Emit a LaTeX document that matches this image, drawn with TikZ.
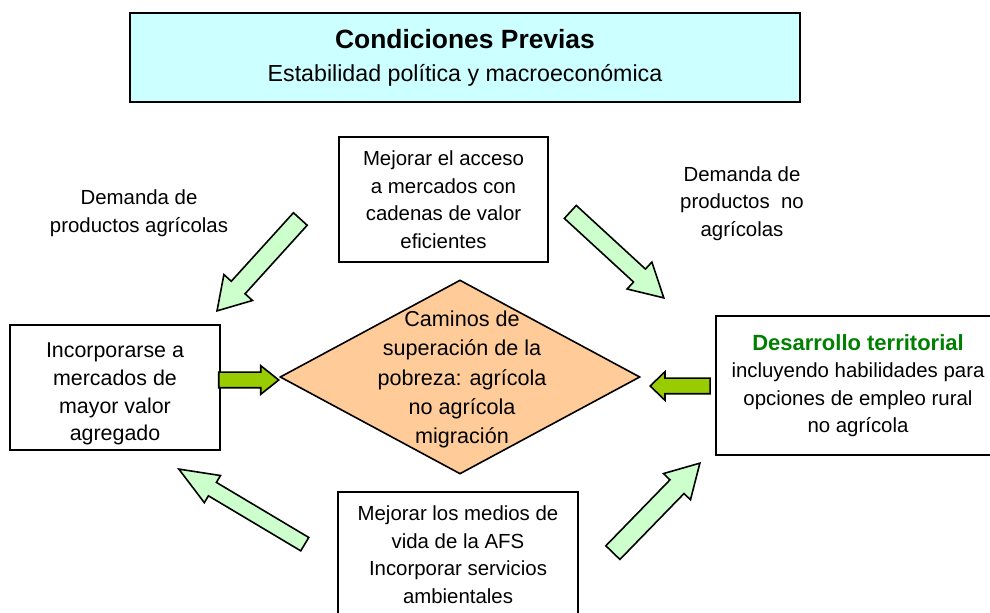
\documentclass[tikz,border=0pt]{standalone}
\usepackage{fontspec}
\setmainfont{Liberation Sans}
\usetikzlibrary{shapes.geometric,shapes.arrows}
\definecolor{celeste}{HTML}{CCFFFF}
\definecolor{verdeclaro}{HTML}{CCFFCC}
\definecolor{verdelima}{HTML}{99CC00}
\definecolor{naranja}{HTML}{FFCC99}
\definecolor{verdetit}{HTML}{008000}

\begin{document}
\begin{tikzpicture}[x=0.5pt,y=-0.5pt,
  caja/.style={draw,line width=1pt,align=center,inner sep=0pt},
  texto/.style={font=\fontsize{10.2}{13.75}\selectfont},
  flecha/.style={single arrow,draw,line width=0.8pt,fill=verdeclaro,inner xsep=0pt,anchor=tip},
  flechita/.style={flecha,fill=verdelima}]

\clip (0,0) rectangle (990,613);

\node[caja,fill=celeste,minimum width=335pt,minimum height=44.5pt,font=\fontsize{11.6}{16.5}\selectfont] (previas) at (465,57.5) {{\fontsize{13.2}{16}\selectfont\bfseries Condiciones Previas}\\Estabilidad política y macroeconómica};

\node[caja,texto,minimum width=104.5pt,minimum height=62.5pt] (acceso) at (443.5,199.5) {Mejorar el acceso\\a mercados con\\cadenas de valor\\eficientes};
\node[texto,align=center] (demagri) at (139,213) {Demanda de\\productos agrícolas};
\node[texto,align=center] (demnoagri) at (742,203.5) {Demanda de\\productos \ no\\agrícolas};

\node[caja,font=\fontsize{10.7}{13.9}\selectfont,minimum width=105pt,minimum height=62.5pt] (incorporarse) at (115,387.5) {\rule{0pt}{13.9pt}Incorporarse a\\mercados de\\mayor valor\\agregado};
\node[caja,texto,minimum width=142pt,minimum height=69.5pt] (territorio) at (858,385.5) {{\fontsize{11}{13.75}\selectfont\bfseries\color{verdetit}Desarrollo territorial}\\incluyendo habilidades para\\opciones de empleo rural\\no agrícola};
\node[caja,texto,minimum width=120pt,minimum height=62.5pt] (medios) at (458,554.5) {Mejorar los medios de\\vida de la AFS\\Incorporar servicios\\ambientales};

\node[diamond,draw,line width=0.8pt,fill=naranja,minimum width=180pt,minimum height=97pt,inner sep=0pt] (camino) at (460,377) {};
\node[font=\fontsize{10.8}{14.6}\selectfont,align=center] (caminotxt) at (462,379.5) {Caminos de\\superación de la\\pobreza: agrícola\\no agrícola\\migración};

\node[flecha,minimum height=62pt,inner ysep=4.25pt,single arrow head extend=5pt,single arrow tip angle=63,rotate=227.8] (fagri) at (216,312) {};
\node[flecha,minimum height=63.5pt,inner ysep=4pt,single arrow head extend=4.75pt,single arrow tip angle=58,rotate=-42.6] (fnoagri) at (665,299) {};
\node[flecha,minimum height=73.3pt,inner ysep=3.5pt,single arrow head extend=4pt,single arrow tip angle=44,rotate=149.2] (fmedizq) at (177,468) {};
\node[flecha,minimum height=62.4pt,inner ysep=4.5pt,single arrow head extend=4.5pt,single arrow tip angle=59.6,rotate=45.8] (fmedder) at (701,462) {};

\node[flechita,minimum height=30pt,inner ysep=3.5pt,single arrow head extend=3.25pt,single arrow tip angle=77] (fizq) at (280,380) {};
\node[flechita,minimum height=30pt,inner ysep=3.5pt,single arrow head extend=3.25pt,single arrow tip angle=88,rotate=180] (fder) at (649,386) {};

\end{tikzpicture}
\end{document}
